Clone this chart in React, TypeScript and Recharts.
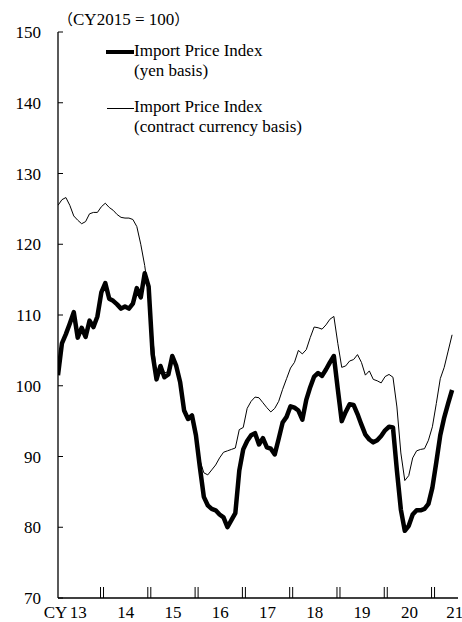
import React from "react";
import { LineChart, Line, XAxis, YAxis } from "recharts";

const years = ["13", "14", "15", "16", "17", "18", "19", "20", "21"];
const yTicks = [70, 80, 90, 100, 110, 120, 130, 140, 150];

const yenBasis = [
  101.5, 106, 107.3, 108.8, 110.4, 106.8, 108.2, 106.9, 109.2, 108.3, 109.8, 113.2,
  114.5, 112.3, 112, 111.5, 110.9, 111.2, 110.9, 111.6, 113.8, 112.5, 115.9, 114,
  104.5, 100.9, 102.8, 101.2, 101.6, 104.2, 102.8, 100.5, 96.5, 95.3, 95.8, 93,
  88.5, 84.3, 83.1, 82.6, 82.4, 81.8, 81.4, 80, 81, 82, 88, 91,
  92.2, 93, 93.3, 91.7, 92.6, 91.3, 91.1, 90.3, 92.5, 94.8, 95.6, 97.1,
  96.9, 96.5, 95.2, 98, 99.8, 101.3, 101.8, 101.4, 102.3, 103.3, 104.2, 99.5,
  95, 96.3, 97.4, 97.3, 96, 94.5, 93.1, 92.4, 92, 92.3, 92.9, 93.7,
  94.2, 94.1, 88, 82.5, 79.5, 80.2, 81.8, 82.4, 82.4, 82.6, 83.3, 85.6,
  89.2, 93, 95.5, 97.5, 99.4,
];

const contractBasis = [
  125.5, 126.3, 126.6, 125.5, 124, 123.4, 122.9, 123.2, 124.3, 124.5, 124.5, 125.3,
  125.8, 125.2, 124.8, 124.2, 123.8, 123.7, 123.7, 123.5, 122.5, 120, 117, 113,
  107, 101.5, 103, 101.8, 102, 104.2, 103, 101, 97, 95.6, 95.9, 93.3,
  89.5, 87.7, 87.4, 88.1, 88.8, 89.8, 90.6, 90.8, 91, 91.2, 93.8, 94.1,
  96.8, 97.8, 98.4, 98.3, 97.6, 96.9, 96.3, 96.8, 97.8, 99.5, 101, 102.5,
  103.3, 105, 104.5, 105.1, 106.8, 108.3, 108.2, 108, 108.6, 109.4, 109.8, 106,
  102.6, 102.8, 103.5, 103.7, 104.4, 103.3, 101.5, 102.1, 100.9, 100.7, 100.4, 101.3,
  101.6, 101.2, 97, 90.5, 86.6, 87.3, 89.8, 90.8, 91, 91.1, 92.3, 94.2,
  97.5, 101, 102.6, 104.9, 107.2,
];

const data = yenBasis.map((v, i) => ({ i, yen: v, contract: contractBasis[i] }));

const W = 462;
const H = 622;
const LEFT = 58;
const RIGHT = 4;
const TOP = 32;
const BOTTOM = 24;
const X_MAX = 101.5;
const FIRST_BOUNDARY = 11.17;
const boundaries = years.slice(1).map((_, k) => FIRST_BOUNDARY + 12 * k);
const PX_PER_MONTH = (W - LEFT - RIGHT) / X_MAX;
const FONT = "'Liberation Serif', 'Times New Roman', serif";
const FS = 17;

const XTick = (props: any) => {
  const { x, index } = props;
  const yAxis = H - BOTTOM;
  const half = 6 * PX_PER_MONTH;
  const labelY = yAxis + 20;
  const isLast = index === boundaries.length - 1;
  return (
    <g>
      <line x1={x - 1.5} x2={x - 1.5} y1={yAxis} y2={yAxis - 11} stroke="#000" strokeWidth={1} />
      <line x1={x + 1.5} x2={x + 1.5} y1={yAxis} y2={yAxis - 11} stroke="#000" strokeWidth={1} />
      {index === 0 && (
        <text x={x - half - 11} y={labelY} textAnchor="end" fontSize={FS} fontFamily={FONT} fill="#000">
          CY
        </text>
      )}
      <text x={x - half} y={labelY} textAnchor="middle" fontSize={FS} fontFamily={FONT} fill="#000">
        {years[index]}
      </text>
      {isLast && (
        <text x={x + half - 2} y={labelY} textAnchor="middle" fontSize={FS} fontFamily={FONT} fill="#000">
          {years[index + 1]}
        </text>
      )}
    </g>
  );
};

const YTick = (props: any) => {
  const { y, payload } = props;
  return (
    <g>
      <line x1={LEFT} x2={LEFT + 5} y1={y} y2={y} stroke="#000" strokeWidth={1} />
      <text x={41} y={y + 6} textAnchor="end" fontSize={FS} fontFamily={FONT} fill="#000">
        {payload.value}
      </text>
    </g>
  );
};

export default function App() {
  return (
    <div style={{ position: "absolute", left: 0, top: 0, width: W, height: H, background: "#fff" }}>
      <LineChart
        width={W}
        height={H}
        data={data}
        margin={{ top: TOP, right: RIGHT, left: 0, bottom: 0 }}
      >
        <XAxis
          dataKey="i"
          type="number"
          domain={[0, X_MAX]}
          ticks={boundaries}
          interval={0}
          height={BOTTOM}
          tickLine={false}
          tickSize={0}
          tick={<XTick />}
          axisLine={{ stroke: "#000", strokeWidth: 1.3 }}
          allowDataOverflow
        />
        <XAxis
          xAxisId="top"
          orientation="top"
          dataKey="i"
          type="number"
          domain={[0, X_MAX]}
          height={0}
          tick={false}
          tickLine={false}
          axisLine={{ stroke: "#000", strokeWidth: 1.3 }}
        />
        <YAxis
          type="number"
          domain={[70, 150]}
          ticks={yTicks}
          interval={0}
          width={LEFT}
          tickLine={false}
          tickSize={0}
          tick={<YTick />}
          axisLine={{ stroke: "#000", strokeWidth: 1.3 }}
          allowDataOverflow
        />
        <YAxis
          yAxisId="right"
          orientation="right"
          type="number"
          domain={[70, 150]}
          width={0}
          tick={false}
          tickLine={false}
          axisLine={{ stroke: "#000", strokeWidth: 1.3 }}
        />
        <Line
          type="linear"
          dataKey="contract"
          stroke="#000"
          strokeWidth={1}
          dot={false}
          isAnimationActive={false}
        />
        <Line
          type="linear"
          dataKey="yen"
          stroke="#000"
          strokeWidth={4.5}
          dot={false}
          strokeLinejoin="round"
          isAnimationActive={false}
        />
      </LineChart>
      <div
        style={{
          position: "absolute",
          left: 58,
          top: 9,
          fontFamily: FONT,
          fontSize: FS,
          lineHeight: "20px",
          color: "#000",
          whiteSpace: "nowrap",
        }}
      >
        <span style={{ fontFamily: "'Noto Sans CJK JP', sans-serif", fontSize: 15 }}>（</span>CY2015 = 100<span style={{ fontFamily: "'Noto Sans CJK JP', sans-serif", fontSize: 15 }}>）</span>
      </div>
      <div
        style={{
          position: "absolute",
          left: 106,
          top: 41,
          fontFamily: FONT,
          fontSize: FS,
          lineHeight: "20px",
          color: "#000",
          whiteSpace: "nowrap",
        }}
      >
        <div style={{ display: "flex", alignItems: "flex-start" }}>
          <div style={{ width: 28, height: 4, background: "#000", marginTop: 9 }} />
          <div>
            <div>Import Price Index</div>
            <div>(yen basis)</div>
          </div>
        </div>
        <div style={{ display: "flex", alignItems: "flex-start", marginTop: 16 }}>
          <div style={{ width: 27, height: 1, background: "#000", marginTop: 11, marginLeft: 1 }} />
          <div>
            <div>Import Price Index</div>
            <div>(contract currency basis)</div>
          </div>
        </div>
      </div>
    </div>
  );
}
